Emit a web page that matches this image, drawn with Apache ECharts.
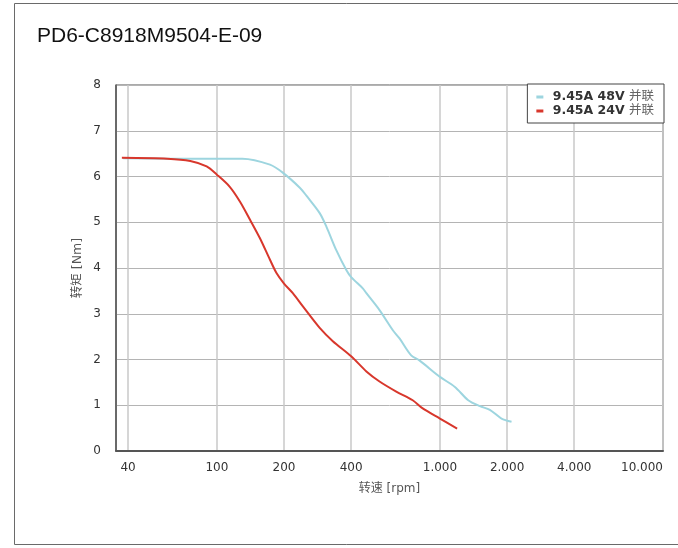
<!DOCTYPE html>
<html>
<head>
<meta charset="utf-8">
<script src="https://cdn.jsdelivr.net/npm/echarts@6/dist/echarts.min.js"></script>
<style>
html,body{margin:0;padding:0;background:#fff;}
#c{width:678px;height:548px;}
</style>
</head>
<body>
<div id="c"></div>
<script>
const titleText = 'PD6-C8918M9504-E-09';
const seriesNames = ['9.45A 48V 并联', '9.45A 24V 并联'];
const xTickValues = [40, 100, 200, 400, 1000, 2000, 4000, 10000];
const xTickLabels = ['40', '100', '200', '400', '1.000', '2.000', '4.000', '10.000'];
const yTicks = [0, 1, 2, 3, 4, 5, 6, 7, 8];

const blueRpm = [38, 60, 90, 130, 173, 198, 236, 252, 289, 310, 343, 381, 400, 452, 468, 536, 615, 659, 743, 809, 1000, 1167, 1339, 1510, 1674, 1888, 2094];
const blueTorque = [6.40, 6.39, 6.39, 6.39, 6.26, 6.08, 5.75, 5.58, 5.20, 4.90, 4.39, 3.95, 3.80, 3.55, 3.45, 3.08, 2.64, 2.46, 2.09, 1.98, 1.62, 1.40, 1.11, 0.98, 0.90, 0.71, 0.64];

const redRpm = [37.5, 60, 76, 90, 100, 114, 127, 141, 156, 173, 185, 200, 219, 243, 289, 331, 400, 468, 536, 637, 755, 837, 1000, 1194];
const redTorque = [6.41, 6.39, 6.34, 6.22, 6.04, 5.78, 5.45, 5.05, 4.65, 4.18, 3.89, 3.66, 3.45, 3.16, 2.69, 2.40, 2.07, 1.74, 1.52, 1.30, 1.11, 0.93, 0.71, 0.49];

const xMinRpm = 35.3;
const xMaxRpm = 10000;

const lg = v => Math.log10(v);
const toPairs = (xs, ys) => xs.map((x, i) => [lg(x), ys[i]]);
const tickLogVals = xTickValues.map(lg);
const labelFor = v => {
  for (let i = 0; i < tickLogVals.length; i++) {
    if (Math.abs(tickLogVals[i] - v) < 1e-6) return xTickLabels[i];
  }
  return '';
};

const chart = echarts.init(document.getElementById('c'));
const font = 'DejaVu Sans, Noto Sans CJK SC, sans-serif';
chart.setOption({
  animation: false,
  backgroundColor: '#fff',
  title: {
    text: titleText,
    left: 32,
    top: 21,
    textStyle: { fontFamily: 'Liberation Sans, Arial, sans-serif', fontSize: 21, fontWeight: 'normal', color: '#111' }
  },
  graphic: [{
    type: 'rect',
    shape: { x: 14.5, y: 3.5, width: 700, height: 541 },
    style: { fill: 'none', stroke: '#6a6a6a', lineWidth: 1 },
    z: 0
  }],
  legend: {
    data: seriesNames,
    orient: 'vertical',
    right: 14,
    top: 84,
    backgroundColor: '#fff',
    borderColor: '#444',
    borderWidth: 1,
    padding: [6, 10, 5, 9],
    itemGap: 0,
    itemWidth: 7,
    itemHeight: 3,
    icon: 'rect',
    formatter: name => {
      const parts = name.split(' ');
      const last = parts.pop();
      return '{a| ' + parts.join(' ') + ' }{b|' + last + '}';
    },
    textStyle: {
      fontFamily: font,
      fontSize: 12.5,
      lineHeight: 14,
      rich: {
        a: { fontSize: 12.5, fontWeight: 'bold', color: '#333', fontFamily: font, lineHeight: 14, verticalAlign: 'middle' },
        b: { fontSize: 12.5, fontWeight: 'normal', color: '#666', fontFamily: font, lineHeight: 14, verticalAlign: 'middle' }
      }
    }
  },
  grid: {
    left: 116, right: 15, top: 85, bottom: 97,
    show: true, borderColor: '#555', borderWidth: 1, backgroundColor: 'transparent'
  },
  xAxis: {
    type: 'value',
    min: lg(xMinRpm),
    max: lg(xMaxRpm),
    name: '转速 [rpm]',
    nameLocation: 'middle',
    nameGap: 32,
    nameTextStyle: { fontFamily: font, fontSize: 12, color: '#555' },
    axisLine: { show: true, lineStyle: { color: '#555', width: 2 } },
    axisTick: { show: false, customValues: tickLogVals },
    axisLabel: {
      customValues: tickLogVals,
      formatter: v => labelFor(v),
      alignMaxLabel: 'right',
      fontFamily: font, fontSize: 12, color: '#333', margin: 11
    },
    splitLine: { show: true, lineStyle: { color: '#c8c8c8', width: 1.5 } }
  },
  yAxis: {
    type: 'value',
    min: yTicks[0],
    max: yTicks[yTicks.length - 1],
    interval: 1,
    name: '转矩 [Nm]',
    nameLocation: 'middle',
    nameGap: 32,
    nameMoveOverlap: false,
    nameRotate: 90,
    nameTextStyle: { fontFamily: font, fontSize: 12.5, color: '#555' },
    axisLine: { show: true, lineStyle: { color: '#555', width: 1.5 } },
    axisTick: { show: false },
    axisLabel: { fontFamily: font, fontSize: 12, color: '#333', margin: 15 },
    splitLine: { show: true, lineStyle: { color: '#b4b4b4', width: 1 } }
  },
  series: [
    {
      name: seriesNames[0],
      type: 'line',
      data: toPairs(blueRpm, blueTorque),
      smooth: 0.3,
      showSymbol: false,
      symbol: 'none',
      color: '#9dd5df',
      lineStyle: { color: '#9dd5df', width: 2 },
      z: 3
    },
    {
      name: seriesNames[1],
      type: 'line',
      data: toPairs(redRpm, redTorque),
      smooth: 0.3,
      showSymbol: false,
      symbol: 'none',
      color: '#d8372c',
      lineStyle: { color: '#d8372c', width: 2 },
      z: 4
    }
  ]
});
</script>
</body>
</html>
